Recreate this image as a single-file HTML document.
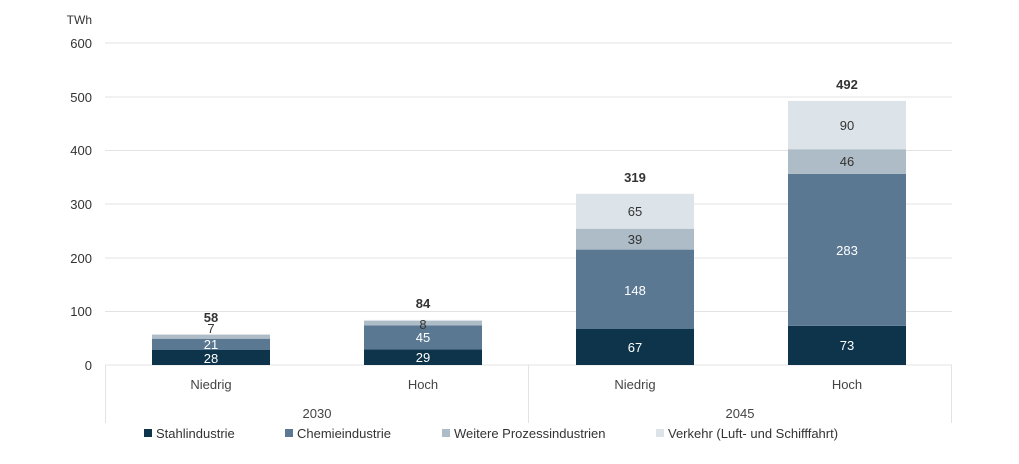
<!DOCTYPE html><html><head><meta charset="utf-8"><style>body{margin:0;background:#fff}svg{display:block;font-family:"Liberation Sans",sans-serif}</style></head><body>
<svg width="1019" height="464" viewBox="0 0 1019 464">
<g stroke="#e3e3e3" stroke-width="1">
<line x1="105" x2="952" y1="43" y2="43"/><line x1="105" x2="952" y1="97" y2="97"/><line x1="105" x2="952" y1="150.5" y2="150.5"/><line x1="105" x2="952" y1="204" y2="204"/><line x1="105" x2="952" y1="258" y2="258"/><line x1="105" x2="952" y1="311.5" y2="311.5"/><line x1="105" x2="952" y1="365" y2="365"/>
<line x1="105.5" x2="105.5" y1="365" y2="423"/><line x1="528.5" x2="528.5" y1="365" y2="423"/><line x1="951.5" x2="951.5" y1="365" y2="423"/>
</g>
<g font-size="13" fill="#333" text-anchor="end">
<text x="92" y="48">600</text><text x="92" y="102">500</text><text x="92" y="155">400</text><text x="92" y="209">300</text><text x="92" y="263">200</text><text x="92" y="316">100</text><text x="92" y="370">0</text>
<text x="92" y="24" font-size="12">TWh</text></g>
<!-- bars -->
<rect x="152" y="350" width="118" height="15" fill="#0d344b"/><rect x="152" y="338.7" width="118" height="11.3" fill="#5b7893"/><rect x="152" y="335" width="118" height="3.7" fill="#adbcc6"/><rect x="152" y="334" width="118" height="1" fill="#dde4e9"/>
<rect x="364" y="349.4" width="118" height="15.6" fill="#0d344b"/><rect x="364" y="325.3" width="118" height="24.1" fill="#5b7893"/><rect x="364" y="321" width="118" height="4.3" fill="#adbcc6"/><rect x="364" y="319.9" width="118" height="1.1" fill="#dde4e9"/>
<rect x="576" y="329" width="118" height="36" fill="#0d344b"/><rect x="576" y="249.6" width="118" height="79.4" fill="#5b7893"/><rect x="576" y="228.7" width="118" height="20.9" fill="#adbcc6"/><rect x="576" y="193.8" width="118" height="34.9" fill="#dde4e9"/>
<rect x="788" y="325.8" width="118" height="39.2" fill="#0d344b"/><rect x="788" y="173.9" width="118" height="151.9" fill="#5b7893"/><rect x="788" y="149.2" width="118" height="24.7" fill="#adbcc6"/><rect x="788" y="100.9" width="118" height="48.3" fill="#dde4e9"/>
<g font-size="13" text-anchor="middle">
<text x="211" y="363" fill="#fff">28</text><text x="211" y="349" fill="#fff">21</text><text x="211" y="333" fill="#333">7</text><text x="211" y="322" fill="#333" font-weight="bold">58</text>
<text x="423" y="362" fill="#fff">29</text><text x="423" y="342" fill="#fff">45</text><text x="423" y="329" fill="#333">8</text><text x="423" y="308" fill="#333" font-weight="bold">84</text>
<text x="635" y="352" fill="#fff">67</text><text x="635" y="295" fill="#fff">148</text><text x="635" y="244" fill="#333">39</text><text x="635" y="216" fill="#333">65</text><text x="635" y="182" fill="#333" font-weight="bold">319</text>
<text x="847" y="350" fill="#fff">73</text><text x="847" y="255" fill="#fff">283</text><text x="847" y="166" fill="#333">46</text><text x="847" y="130" fill="#333">90</text><text x="847" y="89" fill="#333" font-weight="bold">492</text>
<g fill="#444"><text x="211" y="389">Niedrig</text><text x="423" y="389">Hoch</text><text x="635" y="389">Niedrig</text><text x="847" y="389">Hoch</text>
<text x="317" y="418">2030</text><text x="740" y="418">2045</text></g></g>
<g font-size="13" fill="#333">
<rect x="144" y="429" width="8" height="8" fill="#0d344b"/><text x="156" y="438">Stahlindustrie</text>
<rect x="285" y="429" width="8" height="8" fill="#5b7893"/><text x="297" y="438">Chemieindustrie</text>
<rect x="442" y="429" width="8" height="8" fill="#adbcc6"/><text x="454" y="438">Weitere Prozessindustrien</text>
<rect x="656" y="429" width="8" height="8" fill="#dde4e9"/><text x="668" y="438">Verkehr (Luft- und Schifffahrt)</text>
</g>
</svg></body></html>
